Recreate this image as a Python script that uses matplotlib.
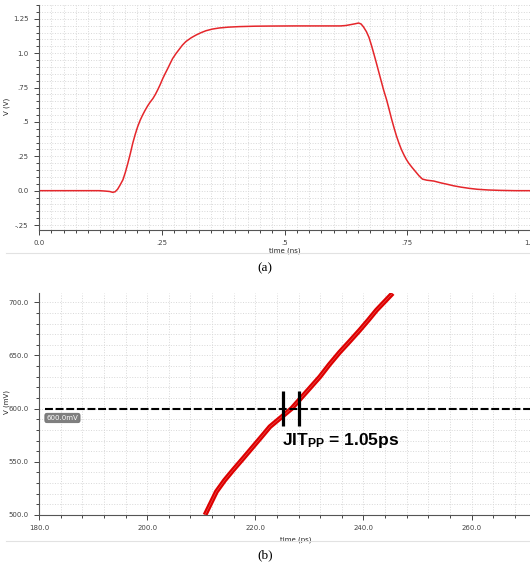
import matplotlib.pyplot as plt
from matplotlib.ticker import MultipleLocator, FixedLocator, FixedFormatter
from matplotlib.lines import Line2D

plt.rcParams['mathtext.fontset'] = 'custom'
plt.rcParams['mathtext.bf'] = 'Liberation Sans:bold'
plt.rcParams['mathtext.rm'] = 'Liberation Sans'

# (a) full transition, time in ns, V in volts
t_ns = [0.0, 0.05, 0.10, 0.123, 0.135, 0.144, 0.150, 0.155, 0.160, 0.165, 0.171, 0.176,
        0.181, 0.186, 0.191, 0.196, 0.201, 0.206, 0.211, 0.216, 0.221, 0.226, 0.232, 0.237,
        0.242, 0.247, 0.252, 0.257, 0.262, 0.267, 0.272, 0.279, 0.286, 0.292, 0.299, 0.310,
        0.320, 0.330, 0.340, 0.353, 0.367, 0.385, 0.408, 0.440, 0.469, 0.52, 0.58, 0.614,
        0.625, 0.634, 0.643, 0.651, 0.656, 0.661, 0.667, 0.672, 0.677, 0.682, 0.687, 0.692,
        0.697, 0.702, 0.708, 0.713, 0.718, 0.723, 0.728, 0.733, 0.738, 0.743, 0.748, 0.753,
        0.760, 0.767, 0.774, 0.781, 0.790, 0.804, 0.818, 0.832, 0.845, 0.859, 0.876, 0.893,
        0.915, 0.940, 0.970, 1.0]
v_a = [0.0, 0.0, 0.0, 0.0, -0.003, -0.006, -0.012, -0.008, 0.01, 0.04, 0.08, 0.135,
       0.20, 0.27, 0.346, 0.41, 0.466, 0.512, 0.55, 0.584, 0.615, 0.642, 0.67, 0.70,
       0.735, 0.773, 0.815, 0.852, 0.887, 0.924, 0.96, 0.997, 1.03, 1.058, 1.084, 1.112,
       1.132, 1.149, 1.163, 1.175, 1.183, 1.189, 1.193, 1.196, 1.197, 1.198, 1.198, 1.198,
       1.201, 1.207, 1.213, 1.219, 1.212, 1.19, 1.155, 1.115, 1.058, 0.995, 0.93, 0.863,
       0.796, 0.73, 0.66, 0.592, 0.522, 0.458, 0.398, 0.346, 0.30, 0.262, 0.228, 0.20,
       0.168, 0.138, 0.108, 0.084, 0.076, 0.07, 0.057, 0.046, 0.035, 0.026, 0.017, 0.01,
       0.005, 0.002, 0.0, 0.0]

# (b) zoom on the 600 mV crossing, time in ps, V in mV
t_ps = [210.7, 212.8, 214.3, 215.9, 217.8, 219.6, 221.2, 222.7, 224.7, 226.7, 229.3,
        231.9, 233.7, 235.6, 237.5, 239.3, 240.9, 242.4, 243.9, 245.4]
v_b = [500.0, 521.9, 532.5, 542.3, 553.5, 564.3, 573.9, 583.0, 591.5, 600.0, 614.8,
       629.7, 641.5, 653.0, 663.5, 673.7, 683.2, 692.5, 700.5, 708.5]

jit_x = [225.14, 228.05]
ref_mv = 600.0

RED = '#e5262b'
GRID = '#d8d8d8'
TICKC = '#444444'

fig = plt.figure(figsize=(5.30, 5.64), dpi=100)


def style_axes(ax):
    for s in ('top', 'right'):
        ax.spines[s].set_visible(False)
    for s in ('left', 'bottom'):
        ax.spines[s].set_color('#555555')
        ax.spines[s].set_linewidth(0.8)
    ax.tick_params(which='both', labelsize=5, colors=TICKC, width=0.7)
    ax.tick_params(which='major', length=3.5, pad=4)
    ax.tick_params(which='minor', length=2)
    ax.grid(which='both', color=GRID, linestyle=':', linewidth=0.7)
    ax.set_axisbelow(True)


# ---- (a) ----
ax1 = fig.add_axes([0.0736, 0.5922, 0.9264, 0.3989])
ax1.plot(t_ns, v_a, color=RED, lw=1.1)
ax1.set_xlim(0, 1.0)
ax1.set_ylim(-0.286, 1.35)
ax1.xaxis.set_major_locator(FixedLocator([0.0, 0.25, 0.5, 0.75, 1.0]))
ax1.xaxis.set_major_formatter(FixedFormatter(['0.0', '.25', '.5', '.75', '1.0']))
ax1.xaxis.set_minor_locator(MultipleLocator(0.025))
ax1.yaxis.set_major_locator(FixedLocator([-0.25, 0.0, 0.25, 0.5, 0.75, 1.0, 1.25]))
ax1.yaxis.set_major_formatter(FixedFormatter(['-.25', '0.0', '.25', '.5', '.75', '1.0', '1.25']))
ax1.yaxis.set_minor_locator(MultipleLocator(0.05))
style_axes(ax1)
ax1.set_xlabel('time (ns)', fontsize=5, color='#222222')
ax1.xaxis.set_label_coords(0.5, -0.08)
ax1.set_ylabel('V (V)', fontsize=5, color='#222222')
ax1.yaxis.set_label_coords(-0.059, 0.55)

# ---- (b) ----
ax2 = fig.add_axes([0.0736, 0.0869, 0.9264, 0.3936])
ax2.plot(t_ps, v_b, color='#dd0000', lw=3.5, solid_capstyle='butt')
ax2.plot(t_ps, v_b, color='#f07070', lw=0.4, alpha=0.8)
ax2.axhline(ref_mv, xmin=0.012, color='black', lw=1.5, dashes=(3.8, 1.3))
ax2.vlines(jit_x, 583.4, 616.3, color='black', lw=2.3)
ax2.text(181.4, 591.2, '600.0mV', fontsize=5, color='white', va='center', ha='left',
         bbox=dict(boxstyle='round,pad=0.25,rounding_size=0.3', fc='#7f7f7f', ec='#6a6a6a', lw=0.5))
ax2.text(224.85, 565.8, r'$\mathbf{JIT_{PP}}$' + ' = 1.05ps', fontsize=12.5, fontweight='bold',
         family='Liberation Sans', va='baseline', ha='left', color='black')
ax2.set_xlim(180, 270.8)
ax2.set_ylim(500, 708.7)
ax2.xaxis.set_major_locator(FixedLocator([180, 200, 220, 240, 260]))
ax2.xaxis.set_major_formatter(FixedFormatter(['180.0', '200.0', '220.0', '240.0', '260.0']))
ax2.xaxis.set_minor_locator(MultipleLocator(4))
ax2.yaxis.set_major_locator(FixedLocator([500, 550, 600, 650, 700]))
ax2.yaxis.set_major_formatter(FixedFormatter(['500.0', '550.0', '600.0', '650.0', '700.0']))
ax2.yaxis.set_minor_locator(MultipleLocator(10))
style_axes(ax2)
ax2.set_xlabel('time (ps)', fontsize=5, color='#222222')
ax2.xaxis.set_label_coords((296 - 39) / 491, -0.095)
ax2.set_ylabel('V (mV)', fontsize=5, color='#222222')
ax2.yaxis.set_label_coords(-0.059, 0.51)

# separators under each plot window
for y in (1 - 252.5 / 564, 1 - 540.5 / 564):
    fig.add_artist(Line2D([6 / 530, 1.0], [y, y], color='#e2e2e2', lw=0.8))

fig.text(0.5, 1 - 268 / 564, '(a)', ha='center', va='center', fontsize=9.5, family='Liberation Serif')
fig.text(0.5, 1 - 555 / 564, '(b)', ha='center', va='center', fontsize=9.5, family='Liberation Serif')

fig.savefig('out.png', dpi=100)
